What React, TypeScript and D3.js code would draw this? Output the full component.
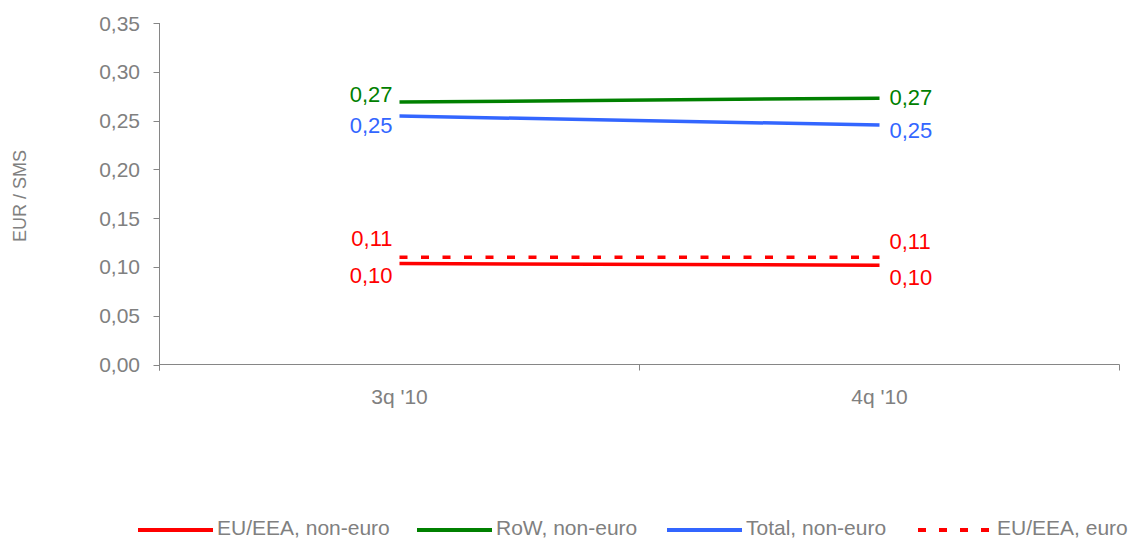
import React from "react";
import * as d3 from "d3";

const categories = ["3q '10", "4q '10"];
const euNonEuro = [0.1034, 0.1018];
const rowNonEuro = [0.269, 0.273];
const totalNonEuro = [0.2546, 0.2454];
const euEuro = [0.110, 0.110];
const yTicks = [0, 0.05, 0.1, 0.15, 0.2, 0.25, 0.3, 0.35];

const W = 1129, H = 538;
const M = { left: 159.5, right: 1119.5, top: 23, bottom: 364.5 };

const series = [
  { name: "EU/EEA, non-euro", values: euNonEuro, color: "#FF0000", dash: null, dyL: 19.5, dyR: 20 },
  { name: "RoW, non-euro", values: rowNonEuro, color: "#008000", dash: null, dyL: 0, dyR: 7 },
  { name: "Total, non-euro", values: totalNonEuro, color: "#3366FF", dash: null, dyL: 17, dyR: 13 },
  { name: "EU/EEA, euro", values: euEuro, color: "#FF0000", dash: "8,13.5", dyL: -11, dyR: -8 },
];

const legendX = [138, 417, 667, 918];

export default function App() {
  const x = d3.scaleBand<string>().domain(categories).range([M.left, M.right]);
  const y = d3.scaleLinear().domain([0, 0.35]).range([M.bottom, M.top]);
  const fmt = (v: number) => d3.format(".2f")(v).replace(".", ",");
  const cx = (c: string) => (x(c) as number) + x.bandwidth() / 2;
  const line = d3
    .line<number>()
    .x((_, i) => cx(categories[i]))
    .y((v) => y(v));
  const gray = "#808080";
  const axisColor = "#868686";
  const font = "'Liberation Sans', Arial, sans-serif";
  const xTickPos = [M.left, ...categories.map((c) => (x(c) as number) + x.bandwidth())];

  return (
    <svg
      width={W}
      height={H}
      style={{ position: "absolute", left: 0, top: 0, background: "#fff" }}
      fontFamily={font}
    >
      {/* y axis */}
      <line x1={M.left} x2={M.left} y1={M.top} y2={M.bottom + 6} stroke={axisColor} strokeWidth={1} />
      {yTicks.map((t) => (
        <g key={t}>
          <line x1={M.left - 6} x2={M.left} y1={Math.round(y(t)) + 0.5} y2={Math.round(y(t)) + 0.5} stroke={axisColor} />
          <text x={140} y={y(t) + 7.5} textAnchor="end" fontSize={21} fill={gray}>
            {fmt(t)}
          </text>
        </g>
      ))}
      {/* x axis */}
      <line x1={M.left} x2={M.right} y1={M.bottom} y2={M.bottom} stroke={axisColor} />
      {xTickPos.map((p, i) => (
        <line key={i} x1={p} x2={p} y1={M.bottom} y2={M.bottom + 6} stroke={axisColor} />
      ))}
      {categories.map((c) => (
        <text key={c} x={cx(c)} y={404} textAnchor="middle" fontSize={21} fill={gray}>
          {c}
        </text>
      ))}
      <text
        transform={`translate(25.5,196) rotate(-90)`}
        textAnchor="middle"
        fontSize={18}
        fill={gray}
      >
        EUR / SMS
      </text>

      {/* series */}
      {series.map((s) => (
        <path
          key={s.name}
          d={line(s.values) as string}
          fill="none"
          stroke={s.color}
          strokeWidth={3.5}
          strokeDasharray={s.dash ?? undefined}
        />
      ))}
      {series.map((s) => (
        <g key={s.name + "lbl"}>
          <text
            x={cx(categories[0]) - 7}
            y={y(s.values[0]) + s.dyL}
            textAnchor="end"
            fontSize={22}
            fill={s.color}
          >
            {fmt(s.values[0])}
          </text>
          <text
            x={cx(categories[1]) + 10}
            y={y(s.values[1]) + s.dyR}
            textAnchor="start"
            fontSize={22}
            fill={s.color}
          >
            {fmt(s.values[1])}
          </text>
        </g>
      ))}

      {/* legend */}
      {series.map((s, i) => (
        <g key={s.name + "leg"}>
          <line
            x1={legendX[i]}
            x2={legendX[i] + 75}
            y1={530}
            y2={530}
            stroke={s.color}
            strokeWidth={4}
            strokeDasharray={s.dash ? "8,13" : undefined}
          />
          <text x={legendX[i] + 79} y={535} fontSize={21} fill={gray}>
            {s.name}
          </text>
        </g>
      ))}
    </svg>
  );
}
